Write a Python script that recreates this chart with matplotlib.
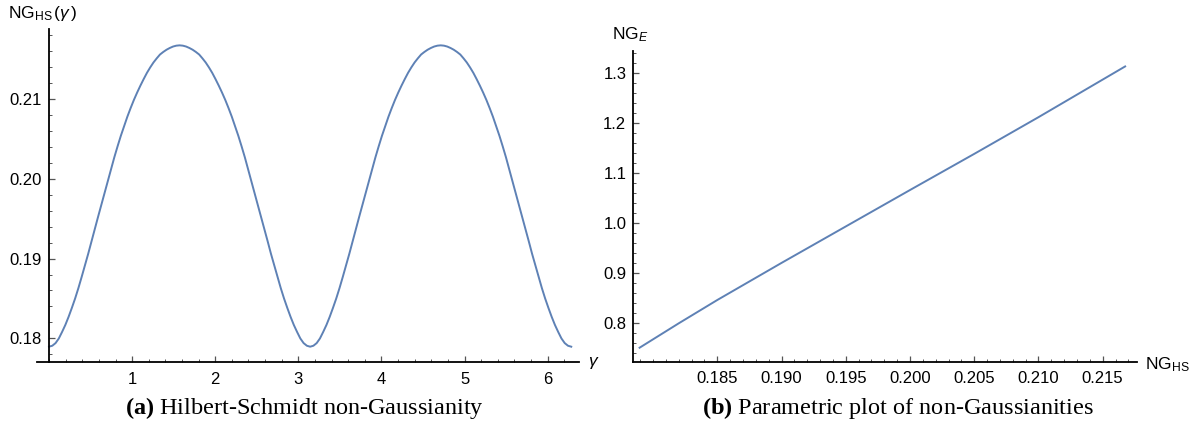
import matplotlib
matplotlib.use("Agg")
import matplotlib.pyplot as plt
import numpy as np
from matplotlib.ticker import MultipleLocator, FormatStrFormatter

plt.rcParams.update(
    {
        "font.family": "Liberation Sans",
        "mathtext.fontset": "custom",
        "mathtext.rm": "Liberation Sans",
        "mathtext.it": "Liberation Sans:italic",
        "mathtext.bf": "Liberation Serif:bold",
    }
)

# ---------------------------------------------------------------------------
# Data
# ---------------------------------------------------------------------------

# one rise of NG_HS from its minimum (gamma = 0) to its maximum (gamma = pi/2),
# sampled every pi/80; the curve repeats it mirrored over 0..2pi
hump = [
    0.17895, 0.17907, 0.1794, 0.17998, 0.1808, 0.18168, 0.1827, 0.18382, 0.1850, 0.1863,
    0.1877, 0.18915, 0.1906, 0.19215, 0.1937, 0.1952, 0.1967, 0.1982, 0.1997, 0.2012,
    0.2027, 0.20408, 0.2054, 0.20662, 0.2078, 0.20888, 0.2099, 0.21083, 0.2117, 0.21252,
    0.2133, 0.21398, 0.2146, 0.21512, 0.2156, 0.21592, 0.2162, 0.21642, 0.2166, 0.21671,
    0.21675,
]
ng_hs = hump + hump[-2::-1] + hump[1:] + hump[-2::-1]
gamma = np.linspace(0, 2 * np.pi, len(ng_hs))

param_hs = [0.17895, 0.1820, 0.1850, 0.1900, 0.1950, 0.2000, 0.2050, 0.2100, 0.21675]
param_e = [0.7513, 0.8000, 0.8465, 0.9205, 0.9932, 1.0659, 1.1380, 1.2112, 1.3125]

left_xticks = [1, 2, 3, 4, 5, 6]
left_yticks = [0.18, 0.19, 0.20, 0.21]
right_xticks = [0.185, 0.190, 0.195, 0.200, 0.205, 0.210, 0.215]
right_yticks = [0.8, 0.9, 1.0, 1.1, 1.2, 1.3]

LINE = "#5e81b5"
W, H = 1203, 434

fig = plt.figure(figsize=(W / 100, H / 100), dpi=100)


def px(x, y):
    return x / W, 1 - y / H


def style(ax):
    for sp in ["top", "right"]:
        ax.spines[sp].set_visible(False)
    for sp in ["left", "bottom"]:
        ax.spines[sp].set_linewidth(1.3)
        ax.spines[sp].set_color("black")
    ax.tick_params(which="both", direction="in", color="#555555", labelsize=12)
    ax.tick_params(which="major", length=4, width=0.9)
    ax.tick_params(which="minor", length=2, width=0.7)
    ax.tick_params(axis="y", pad=5)
    ax.tick_params(axis="x", pad=7)


# ---------------------------------------------------------------------------
# (a) Hilbert-Schmidt non-Gaussianity
# ---------------------------------------------------------------------------

ax1 = fig.add_axes([37.3 / W, 1 - 362 / H, (579.3 - 37.3) / W, (362 - 29) / H])
ax1.plot(gamma, ng_hs, color=LINE, linewidth=1.4)
ax1.set_xlim(-0.141, 6.380)
ax1.set_ylim(0.17703, 0.2188)
ax1.spines["left"].set_position(("data", 0))
ax1.set_xticks(left_xticks)
ax1.set_yticks(left_yticks)
ax1.xaxis.set_minor_locator(MultipleLocator(0.2))
ax1.yaxis.set_minor_locator(MultipleLocator(0.002))
ax1.yaxis.set_major_formatter(FormatStrFormatter("%.2f"))
style(ax1)

fig.text(*px(8, 18), r"NG$_{\mathrm{HS}}\,$($\gamma\,$)", fontsize=12.5, va="baseline")
fig.text(*px(588, 363), r"$\gamma$", fontsize=12.5, va="center")

# ---------------------------------------------------------------------------
# (b) Parametric plot
# ---------------------------------------------------------------------------

ax2 = fig.add_axes([633.3 / W, 1 - 361.7 / H, (1136.7 - 633.3) / W, (361.7 - 50.7) / H])
ax2.plot(param_hs, param_e, color=LINE, linewidth=1.4)
ax2.set_xlim(0.17846, 0.21765)
ax2.set_ylim(0.72338, 1.3439)
ax2.set_xticks(right_xticks)
ax2.set_yticks(right_yticks)
ax2.xaxis.set_minor_locator(MultipleLocator(0.001))
ax2.yaxis.set_minor_locator(MultipleLocator(0.02))
ax2.xaxis.set_major_formatter(FormatStrFormatter("%.3f"))
ax2.yaxis.set_major_formatter(FormatStrFormatter("%.1f"))
style(ax2)

fig.text(*px(612, 39), r"NG$_{E}$", fontsize=12.5, va="baseline")
fig.text(*px(1145, 369), r"NG$_{\mathrm{HS}}$", fontsize=12.5, va="baseline")

# captions
fig.text(*px(304, 408), r"$\mathbf{(a)}$ Hilbert-Schmidt non-Gaussianity",
         family="Liberation Serif", fontsize=17.5, ha="center", va="center")
fig.text(*px(898, 408), r"$\mathbf{(b)}$ Parametric plot of non-Gaussianities",
         family="Liberation Serif", fontsize=17.5, ha="center", va="center")

fig.savefig("out.png", dpi=100)
